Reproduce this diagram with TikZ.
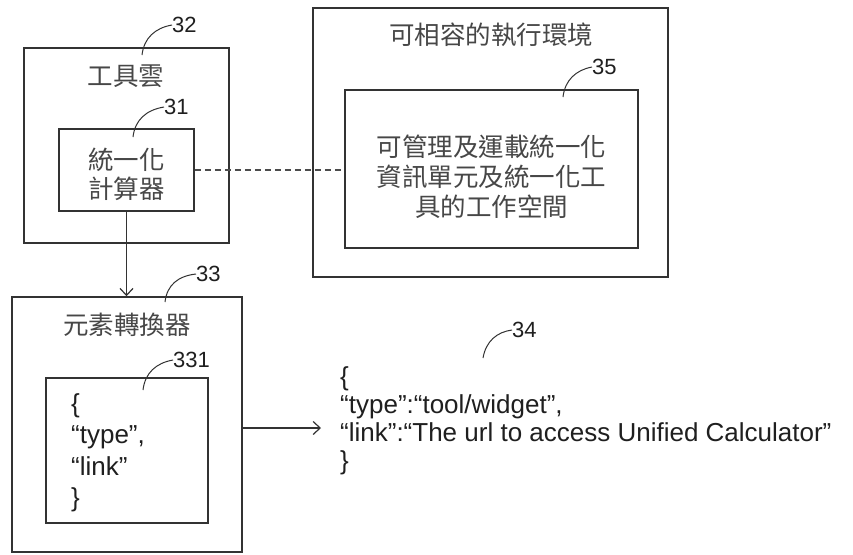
\documentclass[tikz,border=0pt]{standalone}
\usepackage{fontspec}
\setmainfont{Liberation Sans}
\newfontfamily\cjk{Noto Sans CJK TC}
\usetikzlibrary{arrows.meta}
\begin{document}
\begin{tikzpicture}[x=1pt,y=-1pt,
  box/.style={draw=black!80,line width=1.5pt,inner sep=0pt},
  cjktext/.style={font=\cjk\fontsize{25.5}{30}\selectfont,text=black!72,align=center,inner sep=0pt},
  json/.style={font=\fontsize{26}{28}\selectfont,text=black!88,align=left,inner sep=0pt},
  refnum/.style={font=\fontsize{22}{24}\selectfont,text=black!88,inner sep=0pt},
  leader/.style={draw=black!80,line width=1pt},
  conn/.style={draw=black!80,line width=1.5pt},
  arr/.style={conn,-{Straight Barb[length=7pt,width=13pt,line width=1.2pt]}},
  dashline/.style={draw=black!70,line width=1.5pt,dash pattern=on 6pt off 4pt}]
\useasboundingbox (0,0) rectangle (853,554);
\fill[white] (0,0) rectangle (853,554);

% boxes
\node[box,minimum width=205pt,minimum height=195pt] (b32) at (126.5,145.5) {};
\node[box,minimum width=135pt,minimum height=82pt] (b31) at (126.5,170) {};
\node[box,minimum width=355pt,minimum height=269pt] (env) at (490.5,142.5) {};
\node[box,minimum width=293pt,minimum height=158pt] (b35) at (491.5,169) {};
\node[box,minimum width=230pt,minimum height=255pt] (b33) at (127,424.5) {};
\node[box,minimum width=162pt,minimum height=145pt] (b331) at (127,450.5) {};

% texts
\node[cjktext] (t32) at (126,76) {工具雲};
\node[cjktext,font=\cjk\fontsize{25.5}{29}\selectfont] (t31) at (126.5,174) {統一化\\計算器};
\node[cjktext] (tenv) at (491,35) {可相容的執行環境};
\node[cjktext] (t35) at (491.5,177) {可管理及運載統一化\\資訊單元及統一化工\\具的工作空間};
\node[cjktext] (t33) at (127,325) {元素轉換器};
\node[json,anchor=west,font=\fontsize{26}{31.5}\selectfont] (t331) at (71,453) {\{\\“type”,\\“link”\\\}};
\node[json,anchor=west] (t34) at (340,421) {\{\\“type”:“tool/widget”,\\“link”:“The url to access Unified Calculator”\\\}};

% reference numerals
\node[refnum,anchor=west] (l32) at (172,25) {32};
\node[refnum,anchor=west] (l31) at (164,107) {31};
\node[refnum,anchor=west] (l35) at (592,67) {35};
\node[refnum,anchor=west] (l33) at (196,274) {33};
\node[refnum,anchor=west] (l331) at (173,360) {331};
\node[refnum,anchor=west] (l34) at (512,330) {34};

\coordinate (s32) at (142,55);
\coordinate (s31) at (133,137);
\coordinate (s35) at (563,97);
\coordinate (s33) at (165,302);
\coordinate (s331) at (143,390);
\coordinate (s34) at (483,358);

\draw[leader] (s32) .. controls (144,38) and (155,28) .. (l32.west);
\draw[leader] (s31) .. controls (135,120) and (146,110) .. (l31.west);
\draw[leader] (s35) .. controls (565,80) and (576,70) .. (l35.west);
\draw[leader] (s33) .. controls (167,285) and (178,276) .. (l33.west);
\draw[leader] (s331) .. controls (145,373) and (156,363) .. (l331.west);
\draw[leader] (s34) .. controls (486,341) and (497,332) .. (l34.west);

% connectors
\draw[dashline] (b31.east) -- (b31.east -| b35.west);
\draw[arr] (b31.south) -- (b31.south |- b33.north);
\coordinate (jin) at (321,428);
\draw[arr] (b33.east |- jin) -- (jin);
\end{tikzpicture}
\end{document}
